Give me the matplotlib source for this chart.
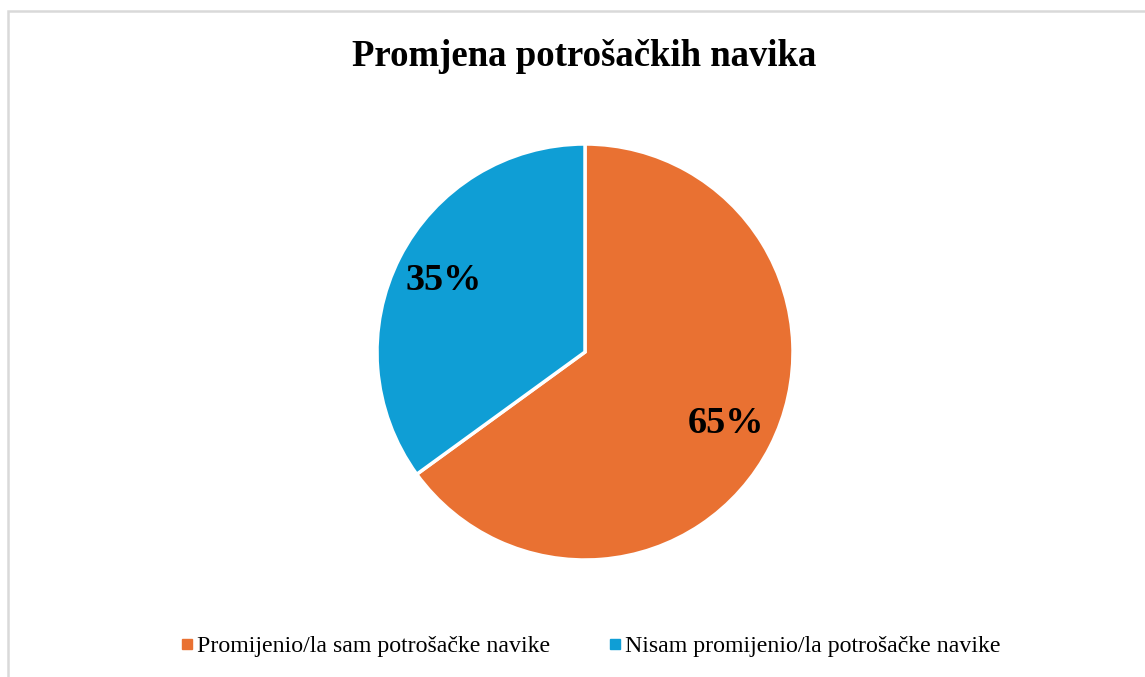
import matplotlib
matplotlib.use("Agg")
import matplotlib.pyplot as plt
from matplotlib.patches import Rectangle
from matplotlib.lines import Line2D

title = "Promjena potrošačkih navika"
labels = ["Promijenio/la sam potrošačke navike", "Nisam promijenio/la potrošačke navike"]
values = [65, 35]
colors = ["#E97132", "#0F9ED5"]

W, H = 1145, 677
fig = plt.figure(figsize=(W/100, H/100), dpi=100)
plt.rcParams['font.family'] = ['Liberation Serif', 'DejaVu Serif']

# border
fig.patches.append(Rectangle((8/W, -0.1), 1.2, (H-11)/H + 0.1, transform=fig.transFigure,
                             fill=False, edgecolor="#d9d9d9", linewidth=1.8))

cx, cy, r = 585, 352, 208
ax = fig.add_axes([(cx-r)/W, (H-cy-r)/H, 2*r/W, 2*r/H])
wedges, texts, autotexts = ax.pie(values, colors=colors, startangle=90, counterclock=False,
       autopct=lambda p: f"{p:.0f}%", pctdistance=0.76,
       wedgeprops=dict(edgecolor="white", linewidth=2.5),
       textprops=dict(fontsize=27.5, fontweight="bold", color="black"))
ax.set_xlim(-1, 1); ax.set_ylim(-1, 1)
ax.set_aspect("equal")

fig.text(584/W, 1-56/H, title, ha="center", va="center", fontsize=26.5, fontweight="bold")

handles = [Line2D([], [], marker="s", linestyle="none", markersize=6.5, markerfacecolor=c,
                  markeredgecolor=c) for c in colors]
fig.legend(handles, labels, loc="center", bbox_to_anchor=(590/W, 1-646/H), ncol=2,
           frameon=False, fontsize=17.2, handletextpad=0.12, columnspacing=2.4, handlelength=0.6)

fig.savefig("out.png", dpi=100)
